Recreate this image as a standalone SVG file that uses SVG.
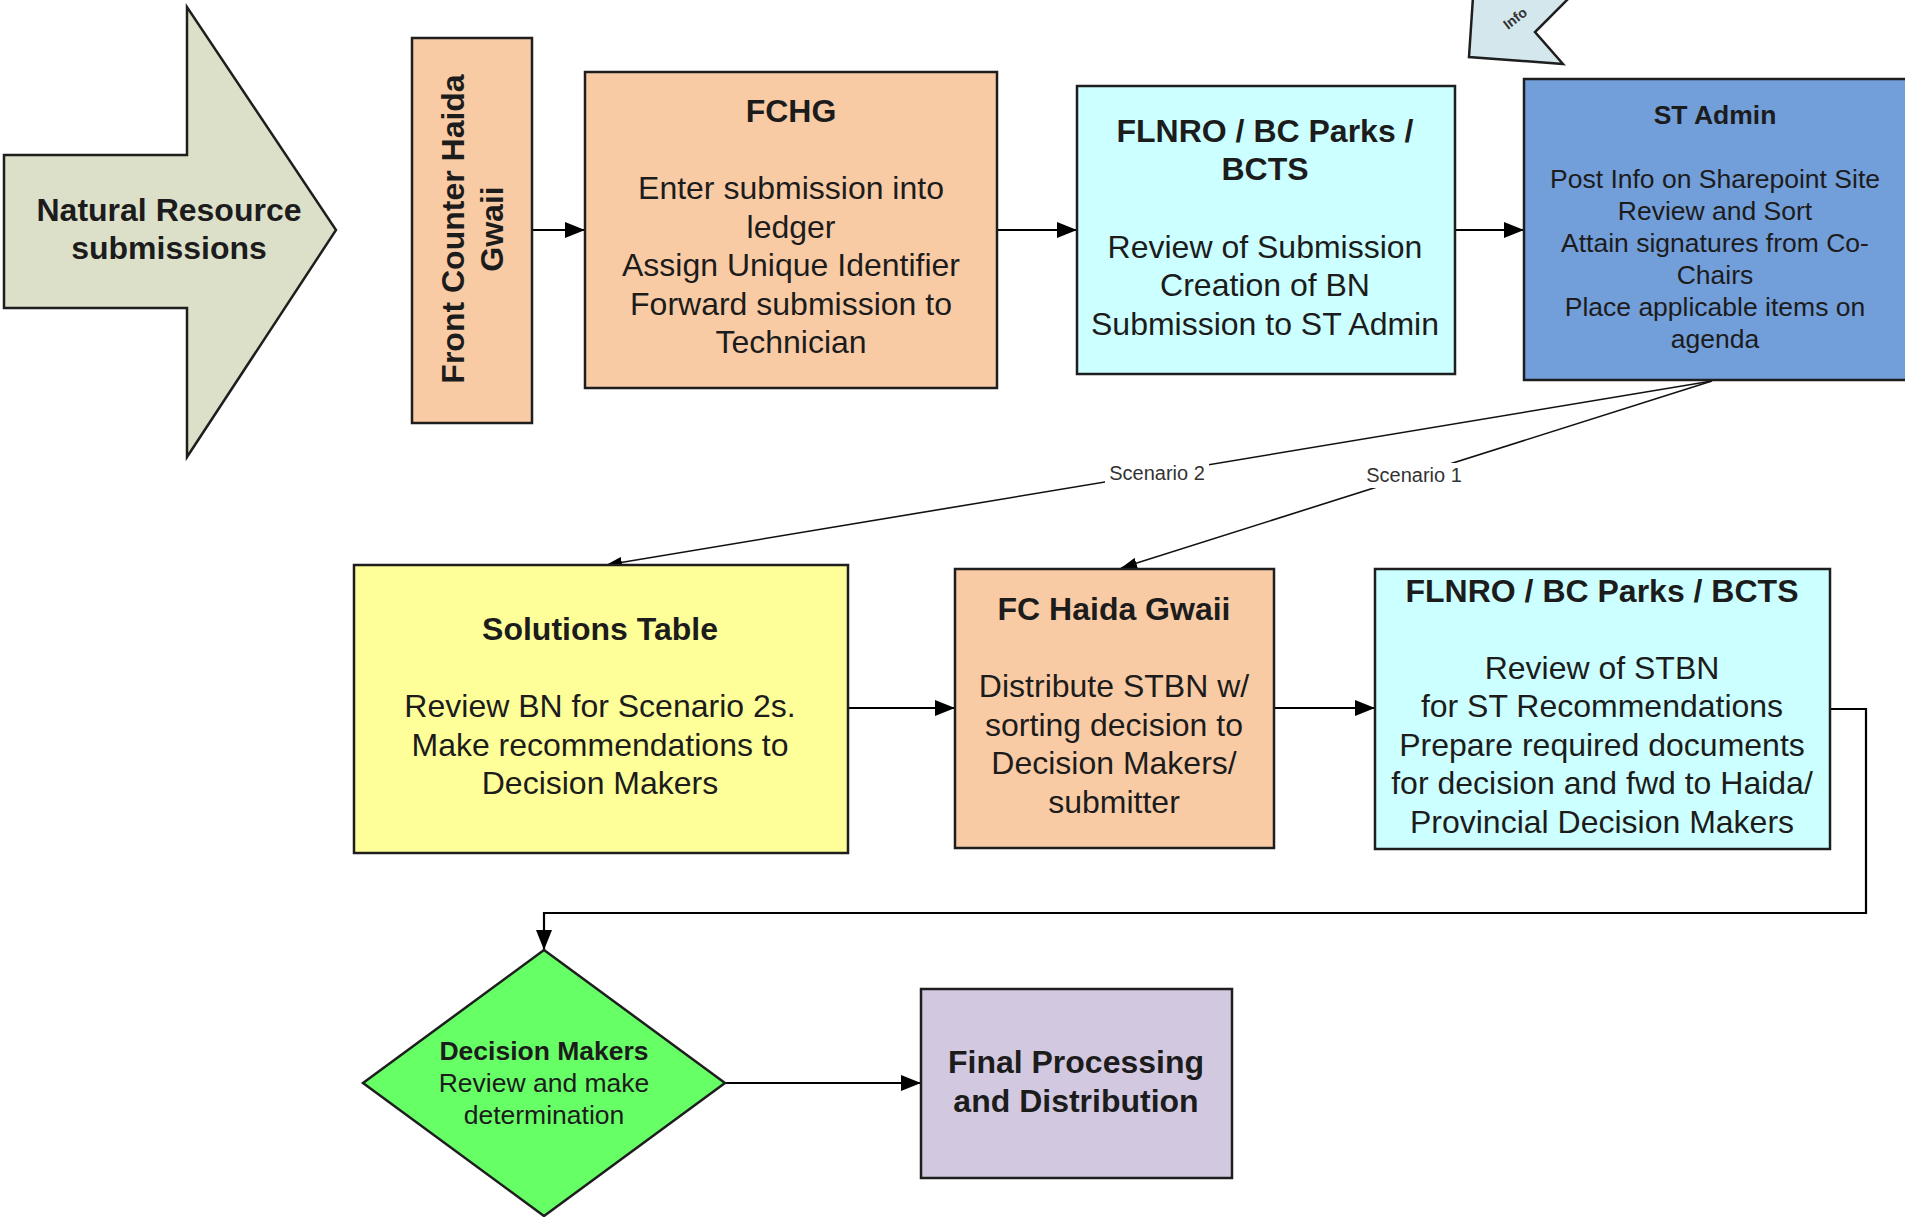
<svg xmlns="http://www.w3.org/2000/svg" width="1905" height="1217" viewBox="0 0 1905 1217">
<style>
  .box { stroke: #1e1e1e; stroke-width: 2.5; }
  .t { font-family: "Liberation Sans", Arial, sans-serif; font-size: 32px; fill: #1c1c1c; text-anchor: middle; }
  .b { font-weight: bold; }
  .s { font-size: 26.5px; }
  .lbl { font-family: "Liberation Sans", Arial, sans-serif; font-size: 20px; fill: #333; text-anchor: middle; }
  .conn { stroke: #000; stroke-width: 2.2; fill: none; }
  .thin { stroke: #111; stroke-width: 1.6; fill: none; }
  .peach { fill: #F9CBA5; }
  .cyan { fill: #CCFFFF; }
</style>
<defs>
  <marker id="ah" viewBox="0 0 20 16" refX="20" refY="8" markerWidth="20" markerHeight="16" markerUnits="userSpaceOnUse" orient="auto">
    <path d="M0,0 L20,8 L0,16 Z" fill="#000"/>
  </marker>
  <marker id="ahs" viewBox="0 0 16 11" refX="16" refY="5.5" markerWidth="16" markerHeight="11" markerUnits="userSpaceOnUse" orient="auto">
    <path d="M0,0 L16,5.5 L0,11 Z" fill="#000"/>
  </marker>
</defs>
<rect width="1905" height="1217" fill="#fff"/>

<g id="connectors">
  <path class="conn" d="M532,230 H585" marker-end="url(#ah)"/>
  <path class="conn" d="M997,230 H1077" marker-end="url(#ah)"/>
  <path class="conn" d="M1455,230 H1524" marker-end="url(#ah)"/>
  <path class="thin" d="M1712,381 L606,565" marker-end="url(#ahs)"/>
  <path class="thin" d="M1712,381 L1121,568" marker-end="url(#ahs)"/>
  <path class="conn" d="M848,708 H955" marker-end="url(#ah)"/>
  <path class="conn" d="M1274,708 H1375" marker-end="url(#ah)"/>
  <path class="conn" d="M1830,709 H1866 V913 H544 V950" marker-end="url(#ah)"/>
  <path class="conn" d="M725,1083 H921" marker-end="url(#ah)"/>
  <g id="label-scenario2">
    <rect x="1105" y="461" width="104" height="25" fill="#fff"/>
    <text class="lbl" x="1157" y="480">Scenario 2</text>
  </g>
  <g id="label-scenario1">
    <rect x="1362" y="463" width="104" height="25" fill="#fff"/>
    <text class="lbl" x="1414" y="482">Scenario 1</text>
  </g>
</g>

<g id="info-callout">
  <polygon points="1473,-3 1469,57 1563,64 1535,32 1570,-3" fill="#D3E7EC" stroke="#1e1e1e" stroke-width="2.5"/>
  <text transform="translate(1508,30) rotate(-38)" font-family="Liberation Sans, Arial, sans-serif" font-size="14" font-weight="bold" fill="#333">Info</text>
</g>

<g id="natural-resource">
  <polygon class="box" points="4,155 187,155 187,7 336,230 187,457 187,308 4,308" fill="#DDE0C9"/>
  <text class="t b" x="169" y="221">Natural Resource</text>
  <text class="t b" x="169" y="259">submissions</text>
</g>

<g id="front-counter">
  <rect class="box peach" x="412" y="38" width="120" height="385"/>
  <text class="t b" transform="translate(464,229) rotate(-90)">Front Counter Haida</text>
  <text class="t b" transform="translate(503,229) rotate(-90)">Gwaii</text>
</g>

<g id="fchg">
  <rect class="box peach" x="585" y="72" width="412" height="316"/>
  <text class="t b" x="791" y="122">FCHG</text>
  <text class="t" x="791" y="199">Enter submission into</text>
  <text class="t" x="791" y="237.5">ledger</text>
  <text class="t" x="791" y="276">Assign Unique Identifier</text>
  <text class="t" x="791" y="314.5">Forward submission to</text>
  <text class="t" x="791" y="353">Technician</text>
</g>

<g id="flnro-review">
  <rect class="box cyan" x="1077" y="86" width="378" height="288"/>
  <text class="t b" x="1265" y="141.5">FLNRO / BC Parks /</text>
  <text class="t b" x="1265" y="180">BCTS</text>
  <text class="t" x="1265" y="257.5">Review of Submission</text>
  <text class="t" x="1265" y="296">Creation of BN</text>
  <text class="t" x="1265" y="334.5">Submission to ST Admin</text>
</g>

<g id="st-admin">
  <rect class="box" x="1524" y="79" width="390" height="301" fill="#729EDA"/>
  <text class="t b s" x="1715" y="124">ST Admin</text>
  <text class="t s" x="1715" y="188">Post Info on Sharepoint Site</text>
  <text class="t s" x="1715" y="220">Review and Sort</text>
  <text class="t s" x="1715" y="252">Attain signatures from Co-</text>
  <text class="t s" x="1715" y="284">Chairs</text>
  <text class="t s" x="1715" y="316">Place applicable items on</text>
  <text class="t s" x="1715" y="348">agenda</text>
</g>

<g id="solutions-table">
  <rect class="box" x="354" y="565" width="494" height="288" fill="#FFFF99"/>
  <text class="t b" x="600" y="640">Solutions Table</text>
  <text class="t" x="600" y="717">Review BN for Scenario 2s.</text>
  <text class="t" x="600" y="755.5">Make recommendations to</text>
  <text class="t" x="600" y="794">Decision Makers</text>
</g>

<g id="fc-haida-gwaii">
  <rect class="box peach" x="955" y="569" width="319" height="279"/>
  <text class="t b" x="1114" y="620">FC Haida Gwaii</text>
  <text class="t" x="1114" y="697">Distribute STBN w/</text>
  <text class="t" x="1114" y="735.5">sorting decision to</text>
  <text class="t" x="1114" y="774">Decision Makers/</text>
  <text class="t" x="1114" y="812.5">submitter</text>
</g>

<g id="flnro-stbn">
  <rect class="box cyan" x="1375" y="569" width="455" height="280"/>
  <text class="t b" x="1602" y="602">FLNRO / BC Parks / BCTS</text>
  <text class="t" x="1602" y="678.5">Review of STBN</text>
  <text class="t" x="1602" y="717">for ST Recommendations</text>
  <text class="t" x="1602" y="755.5">Prepare required documents</text>
  <text class="t" x="1602" y="794">for decision and fwd to Haida/</text>
  <text class="t" x="1602" y="832.5">Provincial Decision Makers</text>
</g>

<g id="decision-makers">
  <polygon class="box" points="544,950 725,1083 544,1216 363,1083" fill="#66FF66"/>
  <text class="t b s" x="544" y="1060">Decision Makers</text>
  <text class="t s" x="544" y="1092">Review and make</text>
  <text class="t s" x="544" y="1124">determination</text>
</g>

<g id="final-processing">
  <rect class="box" x="921" y="989" width="311" height="189" fill="#D2C9E0"/>
  <text class="t b" x="1076" y="1073">Final Processing</text>
  <text class="t b" x="1076" y="1112">and Distribution</text>
</g>
</svg>
